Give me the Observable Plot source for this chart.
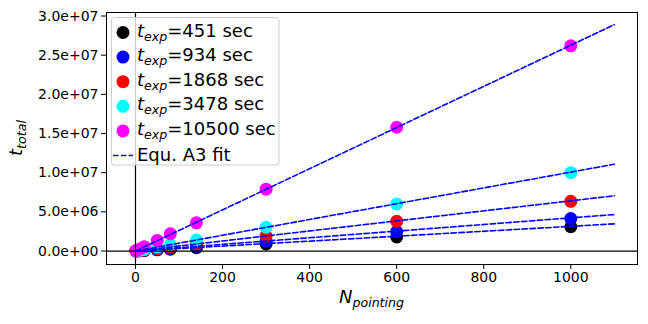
<!DOCTYPE html>
<html><head><meta charset="utf-8">
<script src="https://cdn.jsdelivr.net/npm/d3@7"></script>
<script src="https://cdn.jsdelivr.net/npm/@observablehq/plot@0.6"></script>
<style>
body{margin:0;background:#fff;}
svg{font-family:"DejaVu Sans",sans-serif;}
</style>
</head><body><div id="chart"></div>
<script>
// N_pointing values of the measured points
const nPointing = [1, 10, 20, 50, 80, 140, 300, 600, 1000];
// exposure times (legend)
const texpLabels = ["451", "934", "1868", "3478", "10500"];
const seriesColors = ["#000000", "#0000ff", "#ff0000", "#00ffff", "#ff00ff"];
// t_total for each exposure time
const t451   = [3e3, 3.1e4, 6.0e4, 1.5e5, 2.4e5, 4.2e5, 9.0e5, 1.8e6, 3.1e6];
const t934   = [4e3, 4.1e4, 8.2e4, 2.05e5, 3.3e5, 5.8e5, 1.25e6, 2.48e6, 4.15e6];
const t1868  = [6e3, 6.3e4, 1.26e5, 3.15e5, 5.0e5, 8.8e5, 1.9e6, 3.8e6, 6.35e6];
const t3478  = [1e4, 1.0e5, 2.0e5, 5.0e5, 8.0e5, 1.4e6, 3.05e6, 6.0e6, 1.0e7];
const t10500 = [2.6e4, 2.6e5, 5.3e5, 1.35e6, 2.2e6, 3.6e6, 7.9e6, 1.58e7, 2.62e7];
// fit line end points (Equ. A3 fit)
const fitN = [0, 1100];
const fit451   = [0, 3.47e6];
const fit934   = [0, 4.66e6];
const fit1868  = [0, 7.05e6];
const fit3478  = [0, 1.108e7];
const fit10500 = [0, 2.89e7];
// ticks
const xTicks = [0, 200, 400, 600, 800, 1000];
const yTicks = [0, 5e6, 1e7, 1.5e7, 2e7, 2.5e7, 3e7];

const series = [t451, t934, t1868, t3478, t10500];
const fits = [fit451, fit934, fit1868, fit3478, fit10500];

const pointRows = series.map((s, k) => nPointing.map((n, j) => ({n, t: s[j], k})));
const fitRows = fits.flatMap((f, k) => fitN.map((n, j) => ({n, t: f[j], k})));

const fmt = d => {
  const [m, e] = d.toExponential(1).split("e");
  return m + "e" + e[0] + e.slice(1).padStart(2, "0");
};

const svg = Plot.plot({
  width: 648,
  height: 324,
  marginLeft: 106,
  marginRight: 11,
  marginTop: 12,
  marginBottom: 60,
  style: {fontSize: "14px", fontFamily: "DejaVu Sans", color: "black", background: "white"},
  x: {domain: [-66.6, 1153.2], ticks: xTicks, tickSize: 5, tickPadding: 3, label: null, tickFormat: d => String(d)},
  y: {domain: [-1.72e6, 3.045e7], ticks: yTicks, tickSize: 5, tickPadding: 3, label: null, tickFormat: fmt},
  marks: [
    ...pointRows.map((rows, k) => Plot.dot(rows, {x: "n", y: "t", r: 6.5, fill: seriesColors[k], stroke: "none"})),
    Plot.ruleY([0], {stroke: "black", strokeWidth: 1.2}),
    Plot.ruleX([0], {stroke: "black", strokeWidth: 1.2}),
    Plot.line(fitRows, {x: "n", y: "t", z: "k", stroke: "#0000ff", strokeWidth: 1.6, strokeDasharray: "5.5,2.4"}),
    Plot.frame({stroke: "black", strokeWidth: 1})
  ]
});

const s = d3.select(svg);
function txt(sel, x, y, size) {
  return sel.append("text").attr("x", x).attr("y", y)
    .style("font-size", size).style("font-family", "DejaVu Sans, sans-serif")
    .style("fill", "black");
}
// axis labels
const yl = s.append("text").attr("transform", "translate(21.5,138) rotate(-90)")
  .style("text-anchor", "middle").style("font-size", "18px").style("fill", "black")
  .style("font-family", "DejaVu Sans, sans-serif");
yl.append("tspan").style("font-style", "italic").text("t");
yl.append("tspan").style("font-style", "italic").style("font-size", "12.6px").attr("dy", 4).text("total");

const xl = txt(s, 371.5, 303, "18px").style("text-anchor", "middle");
xl.append("tspan").style("font-style", "italic").text("N");
xl.append("tspan").style("font-style", "italic").style("font-size", "12.6px").attr("dy", 4).text("pointing");

// legend
const lg = s.append("g");
lg.append("rect").attr("x", 111.5).attr("y", 17.5).attr("width", 167.5).attr("height", 147.5)
  .attr("rx", 3).attr("fill", "white").attr("fill-opacity", 0.8).attr("stroke", "#cccccc");
texpLabels.forEach((lab, i) => {
  const cy = 32.5 + i * 24.6;
  lg.append("circle").attr("cx", 123).attr("cy", cy).attr("r", 6.5).attr("fill", seriesColors[i]);
  const t = txt(lg, 137, cy + 4, "18px").style("text-anchor", "start");
  t.append("tspan").style("font-style", "italic").text("t");
  t.append("tspan").style("font-style", "italic").style("font-size", "12.6px").attr("dy", 4).text("exp");
  t.append("tspan").attr("dy", -4).text("=" + lab + " sec");
});
const ly = 32.5 + 5 * 24.6;
lg.append("line").attr("x1", 113).attr("x2", 133).attr("y1", ly).attr("y2", ly)
  .attr("stroke", "#0000ff").attr("stroke-width", 1.5).attr("stroke-dasharray", "5.5,2.4");
txt(lg, 137, ly + 5, "18px").style("text-anchor", "start").text("Equ. A3 fit");

document.getElementById("chart").appendChild(svg);
</script>
</body></html>
